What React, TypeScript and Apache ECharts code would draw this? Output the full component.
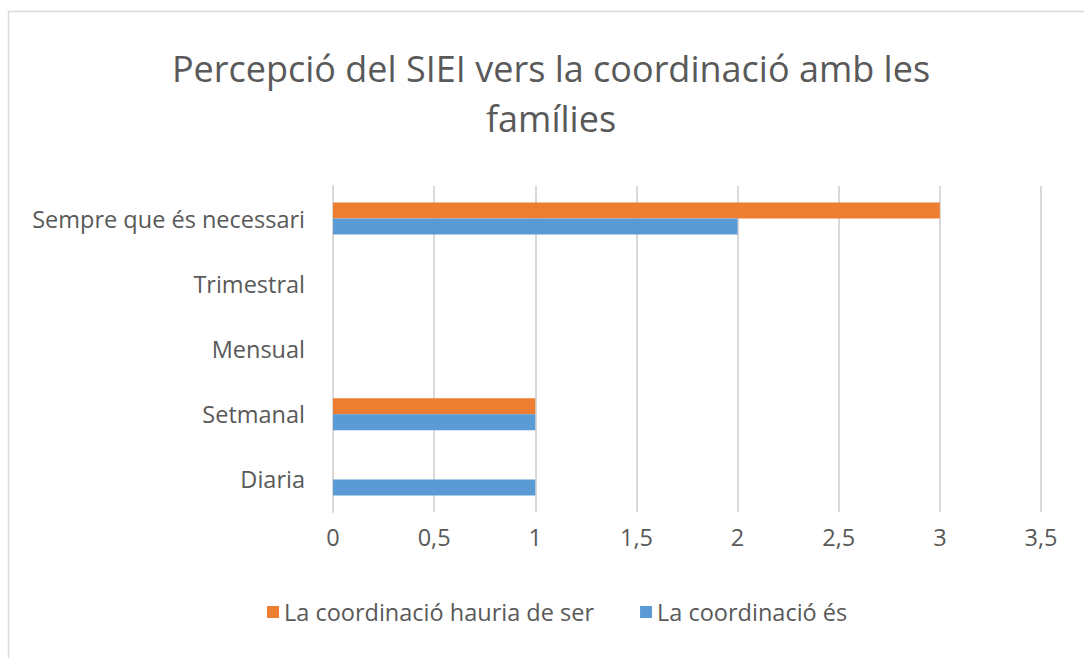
import React, { useEffect, useRef } from "react";
import * as echarts from "echarts";

const titleText = "Percepció del SIEI vers la coordinació amb les\nfamílies";
const categories = ["Diaria", "Setmanal", "Mensual", "Trimestral", "Sempre que és necessari"];
const seriesNames = ["La coordinació hauria de ser", "La coordinació és"];
const hauriaValues = [0, 1, 0, 0, 3];
const esValues = [1, 1, 0, 0, 2];
const colors = ["#ED7D31", "#5B9BD5"];

export default function App() {
  const ref = useRef<HTMLDivElement>(null);
  useEffect(() => {
    if (!ref.current) return;
    const chart = echarts.init(ref.current, undefined, { renderer: "svg" });
    const font = "'Open Sans', 'Noto Sans', sans-serif";
    chart.setOption({
      animation: false,
      backgroundColor: "#ffffff",
      textStyle: { fontFamily: font },
      title: {
        text: titleText,
        top: 38,
        textAlign: "center",
        left: 546,
        textStyle: { fontSize: 36, fontWeight: "normal", color: "#595959", lineHeight: 50, fontFamily: font },
      },
      graphic: [
        {
          type: "rect",
          shape: { x: 8.5, y: 11.5, width: 1100, height: 700 },
          style: { fill: "none", stroke: "#D9D9D9", lineWidth: 1.5 },
          silent: true,
        },
      ],
      legend: {
        data: seriesNames,
        top: 595,
        left: 262,
        itemWidth: 12,
        itemHeight: 12,
        itemGap: 46,
        icon: "rect",
        textStyle: { fontSize: 23.5, color: "#595959", fontFamily: font },
      },
      grid: { left: 333, right: 43, top: 186, bottom: 146, containLabel: false },
      xAxis: {
        type: "value",
        min: 0,
        max: 3.5,
        interval: 0.5,
        axisLine: { show: false },
        axisTick: { show: false },
        splitLine: { show: true, lineStyle: { color: "#D9D9D9", width: 2 } },
        axisLabel: {
          fontSize: 23.5,
          color: "#595959",
          margin: 13,
          formatter: (v: number) => String(v).replace(".", ","),
        },
      },
      yAxis: {
        type: "category",
        data: categories,
        axisLine: { show: true, lineStyle: { color: "#D9D9D9", width: 2 } },
        axisTick: { show: false },
        axisLabel: { fontSize: 23.5, color: "#595959", margin: 28 },
      },
      series: [
        {
          name: seriesNames[0],
          type: "bar",
          data: hauriaValues,
          barWidth: 16,
          barGap: "0%",
          itemStyle: { color: colors[0] },
        },
        {
          name: seriesNames[1],
          type: "bar",
          data: esValues,
          barWidth: 16,
          barGap: "0%",
          itemStyle: { color: colors[1] },
        },
      ],
    });
    return () => chart.dispose();
  }, []);
  return (
    <div
      ref={ref}
      style={{ position: "absolute", left: 0, top: 0, width: 1084, height: 658 }}
    />
  );
}
